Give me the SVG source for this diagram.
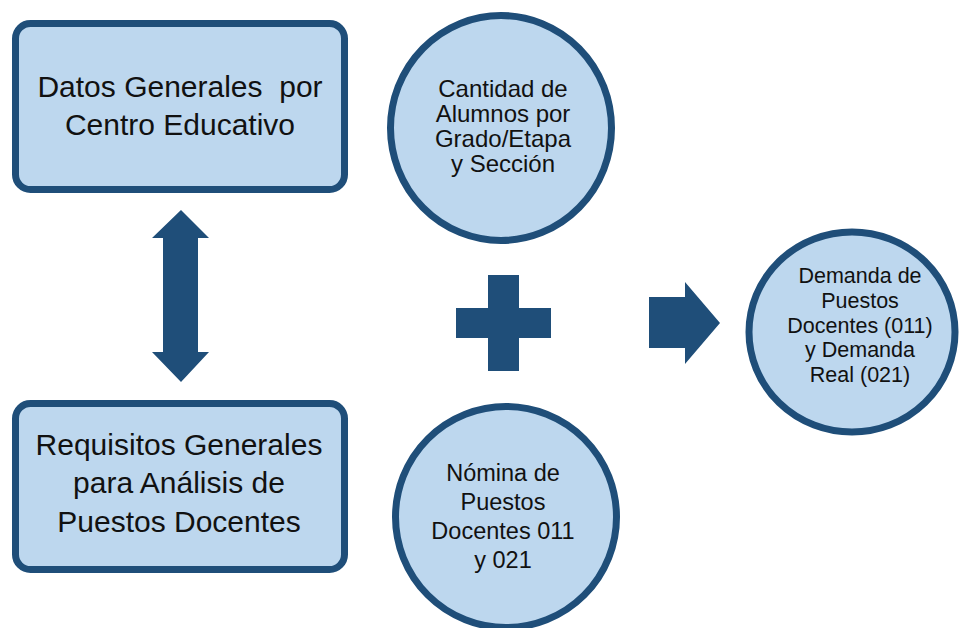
<svg xmlns="http://www.w3.org/2000/svg" width="959" height="628" viewBox="0 0 959 628">
<style>
.node{fill:#BDD7EE;stroke:#1F4E79;stroke-width:7}
.sym{fill:#1F4E79}
text{font-family:"Liberation Sans",Arial,sans-serif;fill:#111;text-anchor:middle}
.big{font-size:30px}
</style>
<rect width="959" height="628" fill="#fff"/>
<g id="datos">
<rect class="node" x="15.5" y="23.5" width="329" height="166" rx="15"/>
<text class="big" x="180" y="97" style="white-space:pre">Datos Generales  por</text>
<text class="big" x="180" y="135">Centro Educativo</text>
</g>
<g id="requisitos">
<rect class="node" x="15.5" y="403.5" width="329" height="166" rx="15"/>
<text class="big" x="179" y="455">Requisitos Generales</text>
<text class="big" x="179" y="493">para Análisis de</text>
<text class="big" x="179" y="532">Puestos Docentes</text>
</g>
<g id="cantidad">
<ellipse class="node" cx="501" cy="128" rx="110.5" ry="112.5"/>
<g style="font-size:24px">
<text x="503" y="97">Cantidad de</text>
<text x="503" y="122">Alumnos por</text>
<text x="503" y="147">Grado/Etapa</text>
<text x="503" y="172">y Sección</text>
</g>
</g>
<g id="nomina">
<circle class="node" cx="506" cy="517" r="110.5"/>
<g style="font-size:23.5px">
<text x="503" y="481">Nómina de</text>
<text x="503" y="510">Puestos</text>
<text x="503" y="539">Docentes 011</text>
<text x="503" y="568">y 021</text>
</g>
</g>
<g id="demanda">
<ellipse class="node" cx="852" cy="332" rx="103" ry="100"/>
<g style="font-size:21.5px">
<text x="860" y="283">Demanda de</text>
<text x="860" y="308">Puestos</text>
<text x="860" y="333">Docentes (011)</text>
<text x="860" y="357">y Demanda</text>
<text x="860" y="382">Real (021)</text>
</g>
</g>
<g id="connectors">
<polygon class="sym" points="181,210 209,238 198,238 198,352 209,352 181,382 152,352 163,352 163,238 152,238"/>
<polygon class="sym" points="488,275 519,275 519,308 551,308 551,338 519,338 519,371 488,371 488,338 456,338 456,308 488,308"/>
<polygon class="sym" points="649,297 685,297 685,282 720,323 685,364 685,348 649,348"/>
</g>
</svg>
